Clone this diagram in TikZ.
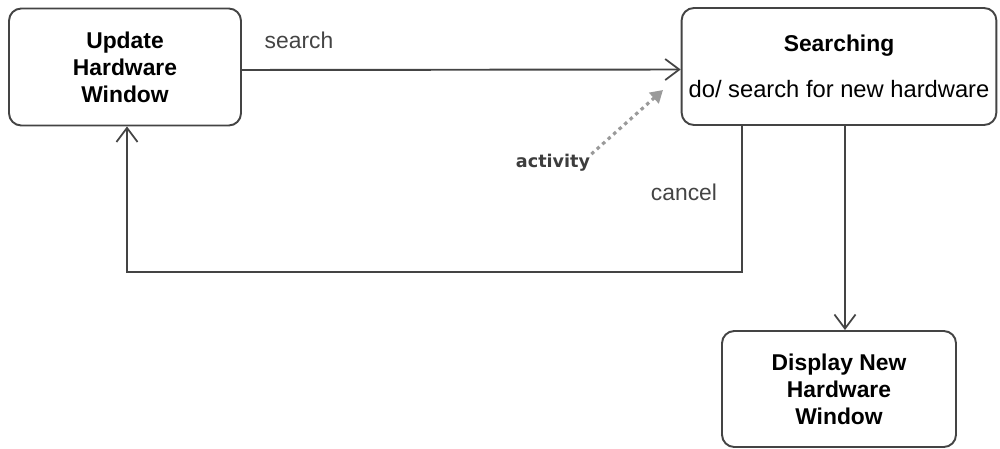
\documentclass[tikz,border=0pt]{standalone}
\usepackage{fontspec}
\setmainfont{Liberation Sans}
\newfontfamily\notefont{DejaVu Sans}
\usepackage{xcolor}
\definecolor{Ink}{HTML}{444444}
\definecolor{GrayMid}{HTML}{9A9A9A}
\usetikzlibrary{arrows.meta, positioning}
\tikzset{
  box/.style={
    rectangle, rounded corners=7pt,
    draw=Ink, line width=1.1pt,
    minimum width=#1, minimum height=2.34cm,
    align=center, inner sep=4pt,
    font=\fontsize{13}{15.4}\selectfont\bfseries
  },
  box/.default=4.64cm,
  arr/.style={-{Straight Barb[length=8pt, width=12pt, line width=1pt]}, line width=1.1pt, color=Ink},
  actArr/.style={-{Triangle[length=7pt, width=8pt]}, line width=1.8pt, color=GrayMid,
    dash pattern=on 2pt off 2.2pt},
  lbl/.style={font=\fontsize{13}{15}\selectfont, text=Ink},
}

\begin{document}
\begin{tikzpicture}
\useasboundingbox (0,0) rectangle (20,-8.98);

\node[box] at (2.5,-1.34) (upd) {Update\\Hardware\\Window};

\node[box=6.24cm] at (16.78,-1.33) (srch) {
  Searching\\[11pt]
  {\fontsize{13.5}{15}\selectfont\mdseries do/ search for new hardware}
};

\node[box=4.68cm, minimum height=2.32cm] at (16.78,-7.78) (disp) {
  Display New\\Hardware\\Window
};

% labels
\node[lbl] at (5.98,-0.8) (lsearch) {search};
\node[lbl] at (13.68,-3.84) (lcancel) {cancel};
\node[font=\notefont\bfseries\fontsize{10}{12}\selectfont, text=Ink!90!black, inner sep=0pt] at (11.06,-3.26) (act) {activity};

\coordinate (cbend) at (2.54,-5.44);
\coordinate (actend) at (13.26,-1.8);

% transitions
\draw[arr] ([yshift=-0.06cm]upd.east) -- ([yshift=-0.06cm]srch.west);
\draw[arr] (srch.south -| 14.84,0) |- (cbend) -- (upd.south -| cbend);
\draw[arr] ([xshift=0.12cm]srch.south) -- ([xshift=0.12cm]disp.north);
\draw[actArr] ([xshift=0.02cm]act.north east) -- (actend);

\end{tikzpicture}
\end{document}
